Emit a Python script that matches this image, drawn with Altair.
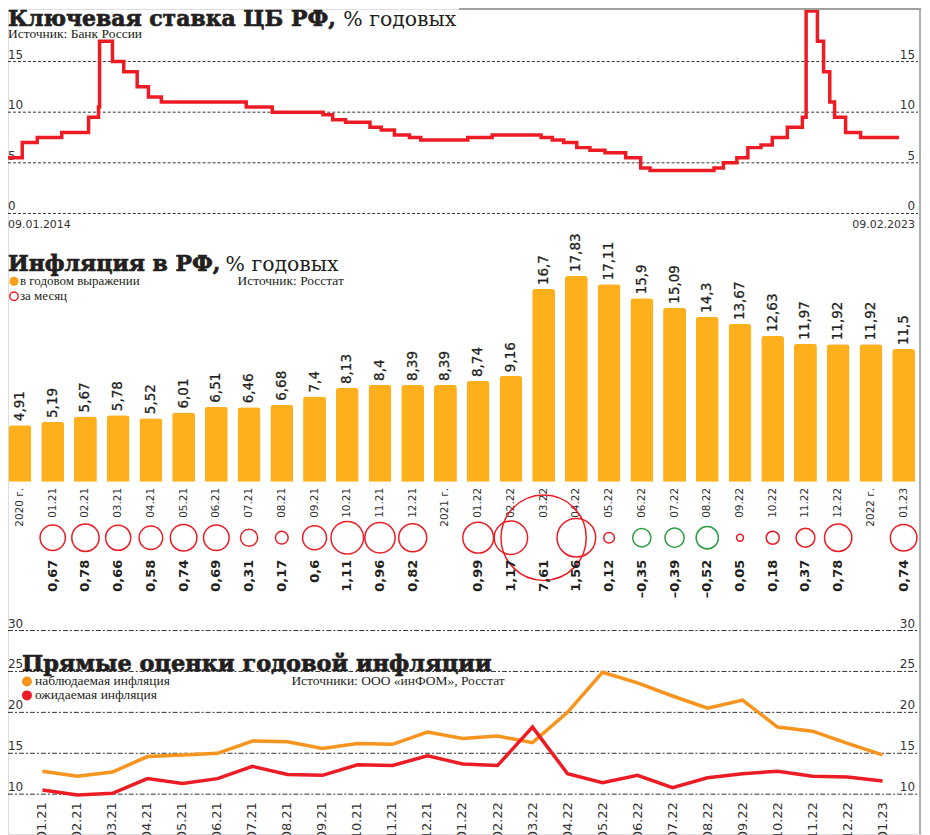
import altair as alt
import pandas as pd

# ---------------- data ----------------
# Key rate of the Bank of Russia (date of change, % annual)
rate_dates = [
    "2014-01-09", "2014-03-03", "2014-04-28", "2014-07-28", "2014-11-05", "2014-12-12", "2014-12-16",
    "2015-02-02", "2015-03-16", "2015-05-05", "2015-06-16", "2015-08-03",
    "2016-06-14", "2016-09-19",
    "2017-03-27", "2017-05-02", "2017-06-19", "2017-09-18", "2017-10-30", "2017-12-18",
    "2018-02-12", "2018-03-26", "2018-09-17", "2018-12-17",
    "2019-06-17", "2019-07-29", "2019-09-09", "2019-10-28", "2019-12-16",
    "2020-02-10", "2020-04-27", "2020-06-22", "2020-07-27",
    "2021-03-22", "2021-04-26", "2021-06-15", "2021-07-26", "2021-09-13", "2021-10-25", "2021-12-20",
    "2022-02-14", "2022-02-28", "2022-04-11", "2022-05-04", "2022-05-27", "2022-06-14", "2022-07-25", "2022-09-19",
    "2023-02-09",
]
rate_values = [
    5.5, 7.0, 7.5, 8.0, 9.5, 10.5, 17.0,
    15.0, 14.0, 12.5, 11.5, 11.0,
    10.5, 10.0,
    9.75, 9.25, 9.0, 8.5, 8.25, 7.75,
    7.5, 7.25, 7.5, 7.75,
    7.5, 7.25, 7.0, 6.5, 6.25,
    6.0, 5.5, 4.5, 4.25,
    4.5, 5.0, 5.5, 6.5, 6.75, 7.5, 8.5,
    9.5, 20.0, 17.0, 14.0, 11.0, 9.5, 8.0, 7.5,
    7.5,
]
rate_ticks = [0, 5, 10, 15]

# Inflation: annual (bars) and monthly (circles)
infl_cats = ["2020 г.", "01.21", "02.21", "03.21", "04.21", "05.21", "06.21", "07.21", "08.21", "09.21",
             "10.21", "11.21", "12.21", "2021 г.", "01.22", "02.22", "03.22", "04.22", "05.22", "06.22",
             "07.22", "08.22", "09.22", "10.22", "11.22", "12.22", "2022 г.", "01.23"]
infl_annual = [4.91, 5.19, 5.67, 5.78, 5.52, 6.01, 6.51, 6.46, 6.68, 7.4, 8.13, 8.4, 8.39, 8.39,
               8.74, 9.16, 16.7, 17.83, 17.11, 15.9, 15.09, 14.3, 13.67, 12.63, 11.97, 11.92, 11.92, 11.5]
infl_monthly = [None, 0.67, 0.78, 0.66, 0.58, 0.74, 0.69, 0.31, 0.17, 0.6, 1.11, 0.96, 0.82, None,
                0.99, 1.17, 7.61, 1.56, 0.12, -0.35, -0.39, -0.52, 0.05, 0.18, 0.37, 0.78, None, 0.74]

# Direct estimates of annual inflation (inFOM)
est_months = ["01.21", "02.21", "03.21", "04.21", "05.21", "06.21", "07.21", "08.21", "09.21", "10.21",
              "11.21", "12.21", "01.22", "02.22", "03.22", "04.22", "05.22", "06.22", "07.22", "08.22",
              "09.22", "10.22", "11.22", "12.22", "01.23"]
est_observed = [12.8, 12.2, 12.7, 14.6, 14.8, 15.0, 16.5, 16.4, 15.6, 16.2, 16.1, 17.6, 16.8,
                17.1, 16.3, 20.0, 24.9, 23.6, 22.0, 20.5, 21.5, 18.2, 17.7, 16.2, 14.8]
est_expected = [10.5, 9.9, 10.1, 11.9, 11.3, 11.9, 13.4, 12.4, 12.3, 13.6, 13.5, 14.7, 13.7,
                13.5, 18.2, 12.5, 11.4, 12.3, 10.8, 12.0, 12.5, 12.8, 12.2, 12.1, 11.6]
est_ticks = [10, 15, 20, 25, 30]

# ---------------- styles ----------------
W, H = 916, 827
RED = "#ed1c24"
GREEN = "#2e9e44"
BAR = "#fdb01b"
ORANGE = "#f7941d"
INK = "#231f20"
GREY = "#333333"
SERIF = "DejaVu Serif"
SMALL_SERIF = "Liberation Serif"
SANS = "DejaVu Sans"
GRID_R = 912


def fmt(v):
    s = ("%g" % abs(v)).replace(".", ",")
    return ("\u2013" if v < 0 else "") + s


def label(text, x, y, size, font=SERIF, weight="normal", align="left", color=INK, heavy=False):
    kw = {}
    if heavy:
        kw = {"stroke": color, "strokeWidth": 0.7}
    return alt.Chart(pd.DataFrame({"t": [text]})).mark_text(
        align=align, baseline="alphabetic", font=font, fontSize=size,
        fontWeight=weight, color=color, **kw
    ).encode(x=alt.value(x), y=alt.value(y), text="t:N")


# ---------------- top: key rate ----------------
top_y = alt.Scale(domain=[0, 20], range=[205, 2])
top_x = alt.Scale(domain=[alt.DateTime(year=2014, month=1, date=9),
                          alt.DateTime(year=2023, month=2, date=9)], range=[0, 893])
rate_df = pd.DataFrame({"d": rate_dates, "r": rate_values})
tick_df = pd.DataFrame({"v": rate_ticks})

top_grid = alt.Chart(tick_df).mark_rule(strokeDash=[3, 2], color=GREY, strokeWidth=1).encode(
    y=alt.Y("v:Q", scale=top_y, axis=None), x=alt.value(0), x2=alt.value(GRID_R))
top_lab_l = alt.Chart(tick_df).mark_text(align="left", baseline="alphabetic", dy=-3, font=SANS,
                                         fontSize=12, color=GREY).encode(
    y=alt.Y("v:Q", scale=top_y, axis=None), x=alt.value(0), text="v:Q")
top_lab_r = alt.Chart(tick_df).mark_text(align="right", baseline="alphabetic", dy=-3, font=SANS,
                                         fontSize=12, color=GREY).encode(
    y=alt.Y("v:Q", scale=top_y, axis=None), x=alt.value(909), text="v:Q")
rate_line = alt.Chart(rate_df).mark_line(interpolate="step-after", color=RED, strokeWidth=3.5).encode(
    x=alt.X("d:T", scale=top_x, axis=None), y=alt.Y("r:Q", scale=top_y, axis=None))
d_first = alt.Chart(pd.DataFrame({"d": [rate_dates[0]], "t": ["09.01.2014"]})).mark_text(
    align="left", baseline="alphabetic", font=SANS, fontSize=11, color=GREY).encode(
    x=alt.X("d:T", scale=top_x, axis=None), y=alt.value(220), text="t:N")
d_last = label("09.02.2023", 909, 220, 11, font=SANS, align="right", color=GREY)
top = alt.layer(top_grid, top_lab_l, top_lab_r, rate_line, d_first)

# ---------------- middle: inflation ----------------
mid_x = alt.Scale(domain=infl_cats, range=[-4.4, 914.0], paddingInner=0.3, paddingOuter=0.15)
mid_y = alt.Scale(domain=[0, 20], range=[474, 242.6])
infl_df = pd.DataFrame({"c": infl_cats, "a": infl_annual,
                        "al": [fmt(v) for v in infl_annual]})
mon_df = pd.DataFrame({"c": infl_cats, "m": infl_monthly}).dropna()
mon_df["s"] = mon_df["m"].abs()
mon_df["ml"] = [fmt(v) for v in mon_df["m"]]

bars = alt.Chart(infl_df).mark_bar(color=BAR, cornerRadiusTopLeft=3, cornerRadiusTopRight=3).encode(
    x=alt.X("c:N", scale=mid_x, axis=None, sort=infl_cats),
    y=alt.Y("a:Q", scale=mid_y, axis=None))
bar_lab = alt.Chart(infl_df).mark_text(angle=270, align="left", baseline="middle", dx=4, font=SANS,
                                       fontSize=13.5, color=INK, stroke=INK, strokeWidth=0.3).encode(
    x=alt.X("c:N", scale=mid_x, axis=None, sort=infl_cats),
    y=alt.Y("a:Q", scale=mid_y, axis=None), text="al:N")
cat_lab = alt.Chart(infl_df).mark_text(angle=270, align="right", baseline="middle", font=SANS,
                                       fontSize=10.5, color=GREY).encode(
    x=alt.X("c:N", scale=mid_x, axis=None, sort=infl_cats), y=alt.value(480), text="c:N")
circles = alt.Chart(mon_df).mark_point(shape="circle", filled=False, strokeWidth=1.5, opacity=1).encode(
    x=alt.X("c:N", scale=mid_x, axis=None, sort=infl_cats), y=alt.value(530),
    size=alt.Size("s:Q", scale=alt.Scale(domain=[0, 8], range=[0, 7680]), legend=None),
    color=alt.condition("datum.m < 0", alt.value(GREEN), alt.value(RED)))
mon_lab = alt.Chart(mon_df).mark_text(angle=270, align="right", baseline="middle", font=SANS,
                                      fontSize=13, fontWeight="bold", color=INK).encode(
    x=alt.X("c:N", scale=mid_x, axis=None, sort=infl_cats), y=alt.value(552), text="ml:N")
leg_dot = alt.Chart(pd.DataFrame({"k": [0]})).mark_point(shape="circle", filled=True, size=85,
                                                          color="#f9a11b", opacity=1).encode(
    x=alt.value(6), y=alt.value(273))
leg_ring = alt.Chart(pd.DataFrame({"k": [0]})).mark_point(shape="circle", filled=False, size=70,
                                                           strokeWidth=1.5, color=RED, opacity=1).encode(
    x=alt.value(6), y=alt.value(288))
mid = alt.layer(bars, bar_lab, cat_lab, circles, mon_lab, leg_dot, leg_ring)

# ---------------- bottom: direct estimates ----------------
bot_x = alt.Scale(domain=est_months, range=[17, 894])
bot_y = alt.Scale(domain=[10, 30], range=[787, 623])
est_df = pd.DataFrame({"mo": est_months, "o": est_observed, "e": est_expected})
et_df = pd.DataFrame({"v": est_ticks})

bot_grid = alt.Chart(et_df).mark_rule(strokeDash=[5, 2, 2, 2], color=GREY, strokeWidth=1).encode(
    y=alt.Y("v:Q", scale=bot_y, axis=None), x=alt.value(0), x2=alt.value(GRID_R))
bot_lab_l = alt.Chart(et_df).mark_text(align="left", baseline="alphabetic", dy=-3, font=SANS,
                                       fontSize=12, color=GREY).encode(
    y=alt.Y("v:Q", scale=bot_y, axis=None), x=alt.value(0), text="v:Q")
bot_lab_r = alt.Chart(et_df).mark_text(align="right", baseline="alphabetic", dy=-3, font=SANS,
                                       fontSize=12, color=GREY).encode(
    y=alt.Y("v:Q", scale=bot_y, axis=None), x=alt.value(909), text="v:Q")
line_o = alt.Chart(est_df).mark_line(color=ORANGE, strokeWidth=3.5).encode(
    x=alt.X("mo:N", scale=bot_x, axis=None, sort=est_months), y=alt.Y("o:Q", scale=bot_y, axis=None))
line_e = alt.Chart(est_df).mark_line(color=RED, strokeWidth=3.5).encode(
    x=alt.X("mo:N", scale=bot_x, axis=None, sort=est_months), y=alt.Y("e:Q", scale=bot_y, axis=None))
mo_lab = alt.Chart(est_df).mark_text(angle=270, align="right", baseline="middle", font=SANS,
                                     fontSize=13, color=GREY).encode(
    x=alt.X("mo:N", scale=bot_x, axis=None, sort=est_months), y=alt.value(795), text="mo:N")
leg_o = alt.Chart(pd.DataFrame({"k": [0]})).mark_point(shape="circle", filled=True, size=100,
                                                        color=ORANGE, opacity=1).encode(
    x=alt.value(19), y=alt.value(674))
leg_e = alt.Chart(pd.DataFrame({"k": [0]})).mark_point(shape="circle", filled=True, size=100,
                                                        color=RED, opacity=1).encode(
    x=alt.value(19), y=alt.value(688))
bot = alt.layer(bot_grid, bot_lab_l, bot_lab_r, line_o, line_e, mo_lab, leg_o, leg_e)

# ---------------- titles, notes, frame ----------------
texts = [
    label("Ключевая ставка ЦБ РФ,", 0, 17, 22, weight="bold", heavy=True),
    label("% годовых", 336, 17, 20.5),
    label("Источник: Банк России", 0, 29, 13.5, font=SMALL_SERIF),
    d_last,
    label("Инфляция в РФ,", 0, 263, 22, weight="bold", heavy=True),
    label("% годовых", 218, 263, 20.5),
    label("в годовом выражении", 12, 277, 13, font=SMALL_SERIF),
    label("за месяц", 12, 292, 13, font=SMALL_SERIF),
    label("Источник: Росстат", 230, 277, 13.5, font=SMALL_SERIF),
    label("Прямые оценки годовой инфляции", 14, 664, 22.5, weight="bold", heavy=True),
    label("наблюдаемая инфляция", 27, 678, 13.5, font=SMALL_SERIF),
    label("ожидаемая инфляция", 27, 692, 13.5, font=SMALL_SERIF),
    label("Источники: ООО «инФОМ», Росстат", 284, 678, 13.5, font=SMALL_SERIF),
]
frame_r = alt.Chart(pd.DataFrame({"k": [0]})).mark_rule(color="#b0b0b0", strokeWidth=2).encode(
    x=alt.value(914), y=alt.value(0), y2=alt.value(H))
frame_t = alt.Chart(pd.DataFrame({"k": [0]})).mark_rule(color="#a0a0a0", strokeWidth=2).encode(
    x=alt.value(452), x2=alt.value(915), y=alt.value(0))

chart = alt.layer(top, mid, bot, frame_r, frame_t, *texts).resolve_scale(
    x="independent", y="independent", size="independent", color="independent"
).properties(
    width=W, height=H, padding=0, autosize=alt.AutoSizeParams(type="none")
).configure_view(strokeWidth=0).configure(background="white")

chart.save("out.html", embed_options={"renderer": "svg", "actions": False})
